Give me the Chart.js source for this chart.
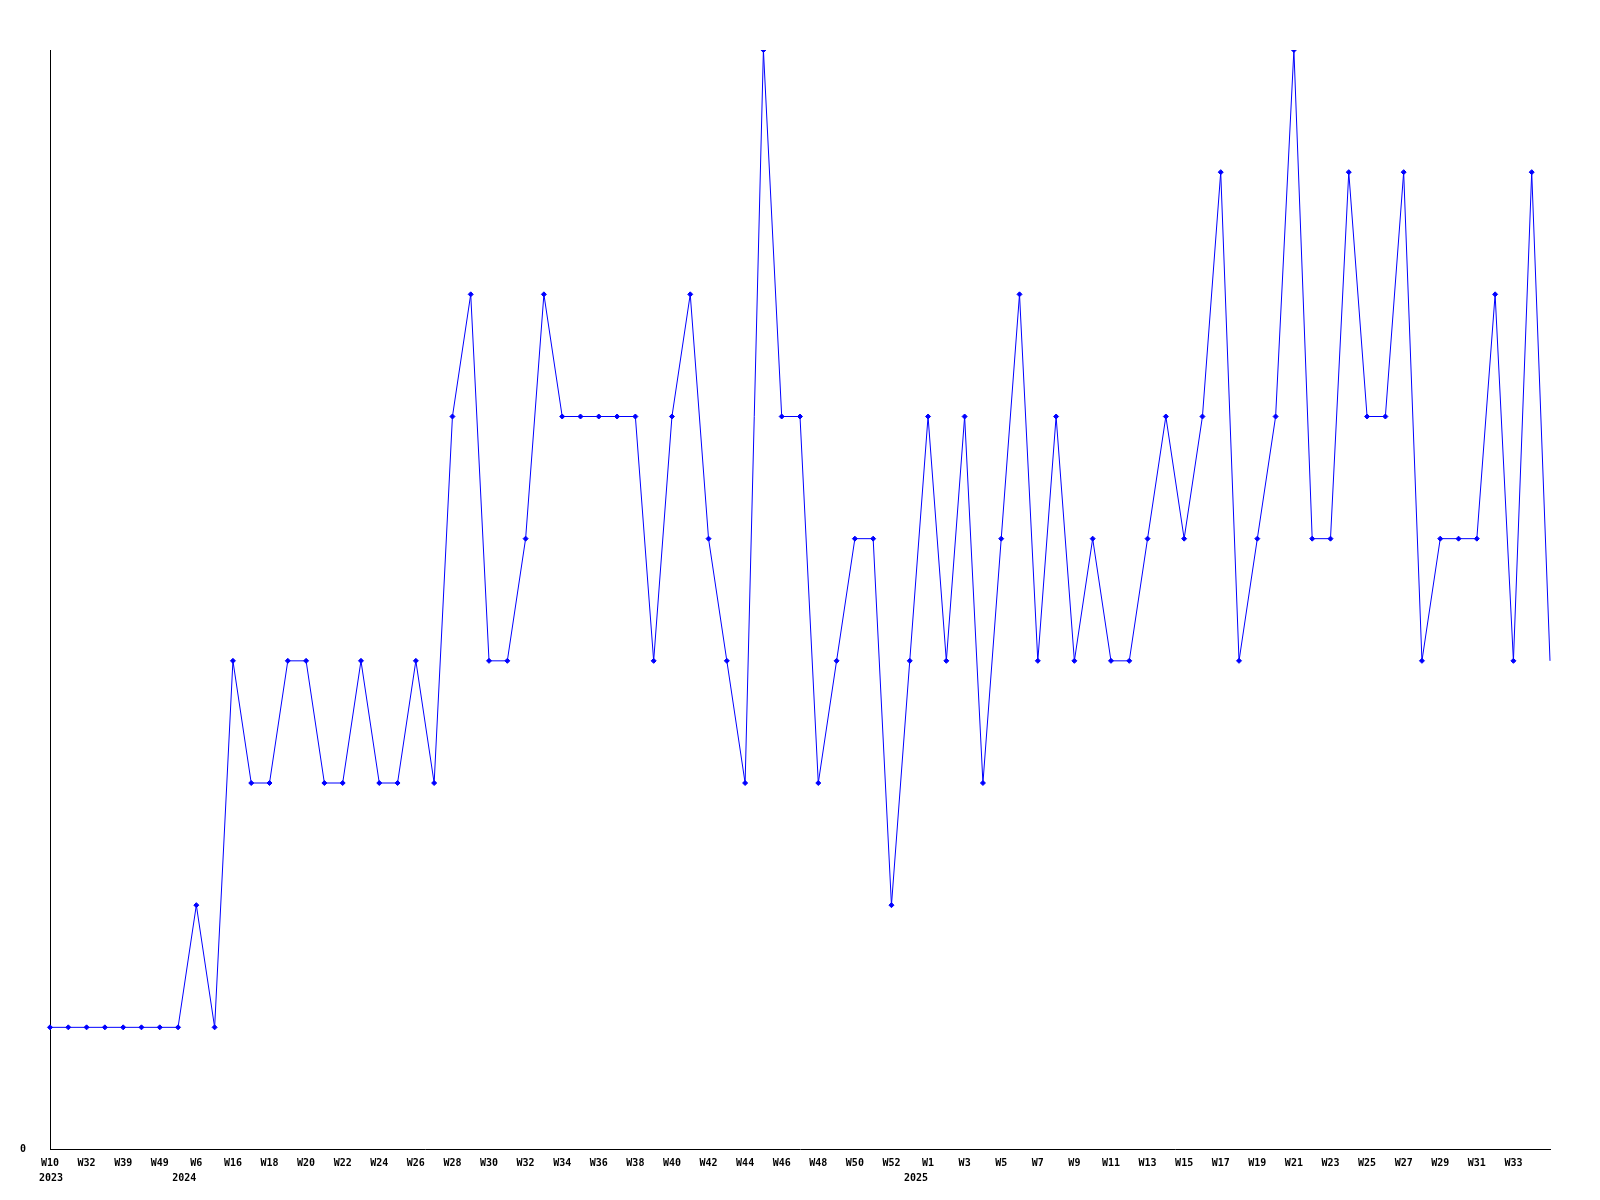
<!DOCTYPE html>
<html>
<head>
<meta charset="utf-8">
<script src="https://cdn.jsdelivr.net/npm/chart.js@4/dist/chart.umd.min.js"></script>
<style>
  html, body { margin: 0; padding: 0; background: #ffffff; }
  #wrap { width: 1600px; height: 1200px; }
</style>
</head>
<body>
<div id="wrap"><canvas id="c" width="1600" height="1200"></canvas></div>
<script>
// Week labels (one per data point)
const weekLabels = [
  'W10','W20','W32','W35','W39','W44','W49','W52',
  'W6','W10','W16','W17','W18','W19','W20','W21','W22','W23','W24','W25',
  'W26','W27','W28','W29','W30','W31','W32','W33','W34','W35','W36','W37',
  'W38','W39','W40','W41','W42','W43','W44','W45','W46','W47','W48','W49',
  'W50','W51','W52','W53',
  'W1','W2','W3','W4','W5','W6','W7','W8','W9','W10','W11','W12','W13','W14',
  'W15','W16','W17','W18','W19','W20','W21','W22','W23','W24','W25','W26',
  'W27','W28','W29','W30','W31','W32','W33','W34','W35'
];
// Year captions: index of the first point of each year
const yearIndex = [0, 8, 48];
const yearText = ['2023', '2024', '2025'];

// Series values
const values = [
  1,1,1,1,1,1,1,1,
  2,1,4,3,3,4,4,3,3,4,3,3,
  4,3,6,7,4,4,5,7,6,6,6,6,
  6,4,6,7,5,4,3,9,6,6,3,4,
  5,5,2,4,
  6,4,6,3,5,7,4,6,4,5,4,4,5,6,
  5,6,8,4,5,6,9,5,5,8,6,6,
  8,4,5,5,5,7,4,8,4
];
const yMin = 0;
const yMax = 9;

const FONT = { family: "'DejaVu Sans Mono', 'Liberation Mono', monospace", size: 10, weight: 'bold' };

const yearPlugin = {
  id: 'yearCaptions',
  afterDraw(chart) {
    const xs = chart.scales.x;
    const ctx = chart.ctx;
    ctx.save();
    ctx.font = 'bold 10px ' + FONT.family;
    ctx.fillStyle = '#000000';
    ctx.textBaseline = 'middle';
    ctx.textAlign = 'left';
    yearIndex.forEach((idx, k) => {
      const px = xs.getPixelForValue(idx);
      const w = ctx.measureText(yearText[k]).width;
      let left = px - w;
      if (left < 39) left = 39;
      ctx.fillText(yearText[k], left, xs.bottom - 22);
    });
    ctx.restore();
  }
};

const lastIdx = values.length - 1;

new Chart(document.getElementById('c'), {
  type: 'line',
  data: {
    labels: weekLabels,
    datasets: [{
      data: values,
      borderColor: '#0000ff',
      backgroundColor: '#0000ff',
      borderWidth: 1,
      tension: 0,
      fill: false,
      pointStyle: 'rectRot',
      pointRadius: (ctx) => ctx.dataIndex === lastIdx ? 0 : 2.5,
      pointBorderWidth: 1,
      pointBackgroundColor: '#0000ff',
      pointBorderColor: '#0000ff'
    }]
  },
  options: {
    responsive: false,
    animation: false,
    devicePixelRatio: 1,
    layout: { padding: { top: 50, right: 50, left: 0, bottom: 0 } },
    plugins: {
      legend: { display: false },
      tooltip: { enabled: false },
      title: { display: false }
    },
    scales: {
      x: {
        type: 'category',
        offset: false,
        grid: { display: false, drawTicks: false },
        border: { display: true, color: '#000000', width: 1 },
        ticks: {
          autoSkip: false,
          maxRotation: 0,
          minRotation: 0,
          padding: 8,
          color: '#000000',
          font: FONT,
          callback: function (value, index) {
            return (index % 2 === 0 && index < lastIdx) ? this.getLabelForValue(value) : '';
          }
        },
        afterFit: (scale) => { scale.height = 50.5; }
      },
      y: {
        min: yMin,
        max: yMax,
        grid: { display: false, drawTicks: false },
        border: { display: true, color: '#000000', width: 1 },
        ticks: {
          stepSize: 9,
          padding: 24,
          color: '#000000',
          font: FONT,
          callback: (v) => (v === 0 ? '0' : '')
        },
        afterFit: (scale) => { scale.width = 50; }
      }
    }
  },
  plugins: [yearPlugin]
});
</script>
</body>
</html>
